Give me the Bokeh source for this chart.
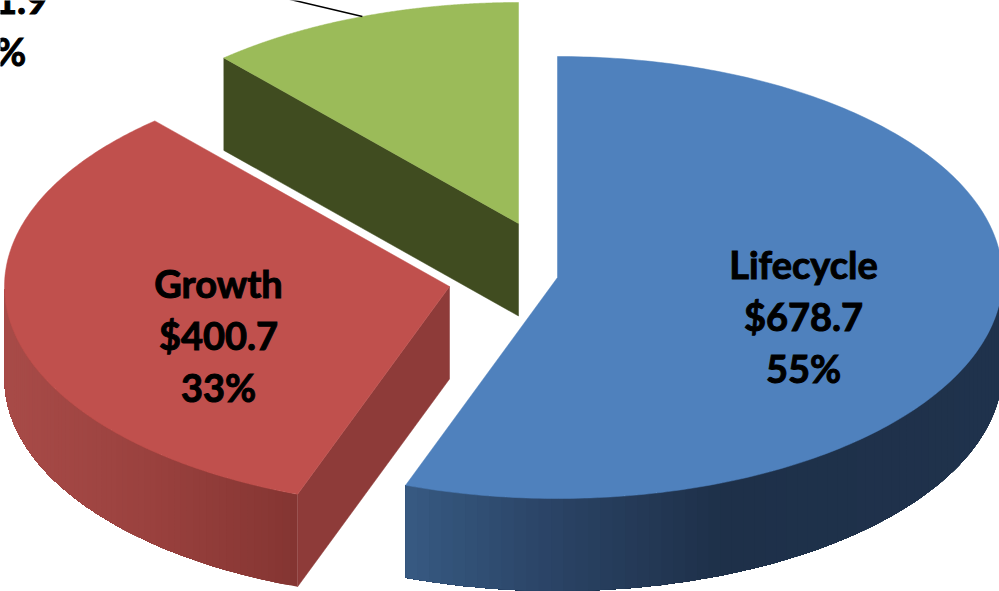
import numpy as np
from bokeh.core.properties import value
from bokeh.embed import file_html
from bokeh.plotting import figure
from bokeh.resources import INLINE

# Fund balances by strategy, in millions of dollars
categories = ["Lifecycle", "Growth", ""]
balances = [678.7, 400.7, 151.9]
percent_labels = ["55%", "33%", "12%"]
balance_labels = ["$678.7", "$400.7", "$151.9"]

# Exploded slice layout: apex of each slice on the page, in pixels
APEX_X = [557, 449, 518]
APEX_Y = [277, 286, 223]
RADIUS_X = 445
RADIUS_Y = 221
DEPTH = 92.5

TOP_COLORS = ["#4F81BD", "#C0504D", "#9BBB59"]
CUT_COLORS = ["#1F324C", "#8E3B39", "#404C20"]
# Wall shading: (x pixel, colour) stops for each outer wall
WALL_STOPS = [
    ([406, 530, 720, 999], ["#375A82", "#2C4669", "#1E3049", "#1F324C"]),
    ([5, 150, 296], ["#A84B48", "#9A413E", "#843532"]),
    ([222, 518], ["#404C20", "#404C20"]),
]

LABEL_X = [803, 218, -12]
LABEL_Y = [263, 282, -54]
LINE_STEP = 52

# The perspective view opens the back of the pie slightly
VIEW_KNOTS = [0, 180, 320, 360]
VIEW_SHIFT = [0.0, 1.3, 3.0, 0.0]


def hex_rgb(c):
    return np.array([int(c[i:i + 2], 16) for i in (1, 3, 5)], dtype=float)


def ramp(x, stops):
    xs, cols = stops
    rgb = np.array([hex_rgb(c) for c in cols])
    vals = [np.interp(x, xs, rgb[:, k]) for k in range(3)]
    return "#%02x%02x%02x" % tuple(int(round(v)) for v in vals)


def view_angle(deg):
    return deg + np.interp(deg, VIEW_KNOTS, VIEW_SHIFT)


def rim(cx, cy, deg):
    t = np.radians(deg)
    return cx + RADIUS_X * np.sin(t), cy - RADIUS_Y * np.cos(t)


p = figure(width=999, height=591, x_range=(0, 999), y_range=(591, 0),
           output_backend="svg", toolbar_location=None, min_border=0,
           outline_line_color=None, background_fill_color="white",
           border_fill_color="white")
p.axis.visible = False
p.grid.visible = False

edges = np.concatenate([[0.0], np.cumsum(balances) / np.sum(balances) * 360.0])

# The back slice goes first so nearer ones paint over it
for i in (2, 1, 0):
    cx, cy = APEX_X[i], APEX_Y[i]
    start, end = view_angle(edges[i]), view_angle(edges[i + 1])
    arc = np.linspace(start, end, 240)
    ax, ay = rim(cx, cy, arc)

    # Outer wall on the front half of the rim, painted as strips that run on
    # to the end of the wall, so each one covers the seam of the one before
    w0, w1 = max(start, 90.0), min(end, 270.0)
    if w1 > w0:
        front = np.linspace(w0, w1, 70)
        xs, ys, fills = [], [], []
        for k in range(len(front) - 1):
            rest = front[k:]
            x_r, y_r = rim(cx, cy, rest)
            xs.append([*x_r, *x_r[::-1]])
            ys.append([*y_r, *(y_r[::-1] + DEPTH)])
            x0, _ = rim(cx, cy, front[k])
            x1, _ = rim(cx, cy, front[k + 1])
            fills.append(ramp((x0 + x1) / 2, WALL_STOPS[i]))
        p.patches(xs, ys, fill_color=fills, line_color=None)

    # Flat cut faces that look towards the viewer
    if i in (1, 2):
        ex, ey = rim(cx, cy, start)
        p.patch([cx, ex, ex, cx], [cy, ey, ey + DEPTH, cy + DEPTH],
                fill_color=CUT_COLORS[i], line_color=CUT_COLORS[i], line_width=0.5)

    # Top surface
    p.patch([cx, *ax], [cy, *ay], fill_color=TOP_COLORS[i],
            line_color=TOP_COLORS[i], line_width=0.5)

# Leader from the clipped small-slice label to the middle of its rim
mid = view_angle((edges[2] + edges[3]) / 2)
lx, ly = rim(APEX_X[2], APEX_Y[2], mid)
p.line([lx, lx - 76], [ly, ly - 18], line_color="black", line_width=1.5)

font = value("Lato")
for i in range(3):
    lines = [categories[i], balance_labels[i], percent_labels[i]]
    for k, t in enumerate(lines):
        if not t:
            continue
        p.text([LABEL_X[i]], [LABEL_Y[i] + k * LINE_STEP], text=[t],
               text_font=font, text_font_style="bold", text_font_size="38px",
               text_color="black", text_outline_color="black",
               text_align="center", text_baseline="middle")

open("out.html", "w").write(file_html(p, INLINE))
